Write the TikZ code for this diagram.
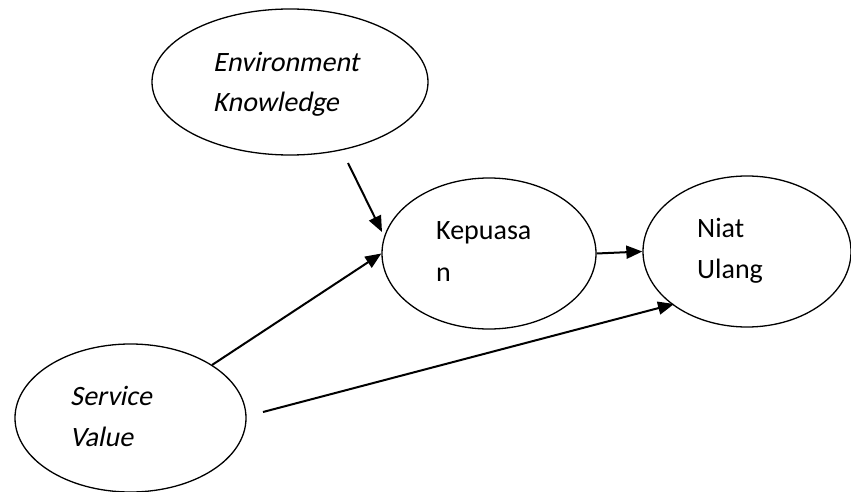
\documentclass[tikz,border=0pt]{standalone}
\usepackage{fontspec}
\setmainfont{Carlito}
\newfontfamily\slantfont[FakeSlant=0.2]{Carlito}
\usetikzlibrary{shapes.geometric,arrows.meta}
\begin{document}
\begin{tikzpicture}[x=1pt,y=-1pt,
  oval/.style={ellipse,draw,line width=1.3pt,inner sep=0pt},
  lbl/.style={anchor=base west,inner sep=0pt,font=\fontsize{28}{40}\selectfont},
  arr/.style={line width=2pt,-{Triangle[length=16pt,width=13pt]}}]
\useasboundingbox (0,0) rectangle (851,492);
\node[oval,minimum width=276pt,minimum height=146pt] (env) at (290,82) {};
\node[oval,minimum width=214pt,minimum height=151pt] (kep) at (489,253.5) {};
\node[oval,minimum width=208pt,minimum height=151pt] (niat) at (747,251.5) {};
\node[oval,minimum width=231pt,minimum height=148pt] (sv) at (130.5,418) {};
\node[lbl] (env1) at (213,72) {\slantfont Environment};
\node[lbl] (env2) at (213,112) {\slantfont Knowledge};
\node[lbl] (kep1) at (436,239) {Kepuasa};
\node[lbl] (kep2) at (436,281) {n};
\node[lbl] (niat1) at (697,237) {Niat};
\node[lbl] (niat2) at (697,278) {Ulang};
\node[lbl] (sv1) at (70,405) {\slantfont Service};
\node[lbl] (sv2) at (70,446) {\slantfont Value};
\coordinate (a1s) at (348,163);
\coordinate (a1e) at (382,232);
\coordinate (a2s) at (212,365);
\coordinate (a4s) at (263,412);
\coordinate (a4e) at (674,304);
\draw[arr] (a1s) -- (a1e);
\draw[arr] (a2s) -- (kep.west);
\draw[arr] (kep.east) -- (niat.west);
\draw[arr] (a4s) -- (a4e);
\end{tikzpicture}
\end{document}
